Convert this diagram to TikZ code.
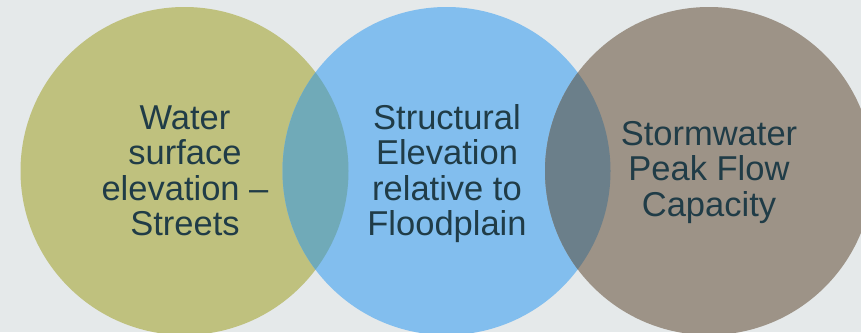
\documentclass[tikz,border=0pt]{standalone}
\usepackage{fontspec}
\setmainfont{Liberation Sans}
\definecolor{bgc}{HTML}{E5E9EA}
\definecolor{olive}{HTML}{BFC17E}
\definecolor{skyb}{HTML}{82BEEE}
\definecolor{taupe}{HTML}{9D9387}
\definecolor{ovA}{HTML}{70AAB8}
\definecolor{ovB}{HTML}{6B7F8A}
\definecolor{txt}{HTML}{203C47}
\begin{document}
\begin{tikzpicture}[x=1pt,y=-1pt,
  lbl/.style={align=center,text=txt,inner sep=0pt,font=\fontsize{34.5}{35.5}\selectfont}]
\fill[bgc] (0,0) rectangle (861,332);
\useasboundingbox (0,0) rectangle (861,332);
\coordinate (c1) at (184.5,171);
\coordinate (c2) at (446.5,171);
\coordinate (c3) at (709,171);
\fill[olive] (c1) circle[radius=164];
\fill[skyb] (c2) circle[radius=164];
\fill[taupe] (c3) circle[radius=164];
\begin{scope}
  \clip (c1) circle[radius=164];
  \fill[ovA] (c2) circle[radius=164];
\end{scope}
\begin{scope}
  \clip (c2) circle[radius=164];
  \fill[ovB] (c3) circle[radius=164];
\end{scope}
\node[lbl] (t1) at (185,171) {Water\\surface\\elevation –\\Streets};
\node[lbl] (t2) at (447,173.5) {Structural\\Elevation\\relative to\\Floodplain};
\node[lbl] (t3) at (709,172.5) {Stormwater\\Peak Flow\\Capacity};
\end{tikzpicture}
\end{document}
